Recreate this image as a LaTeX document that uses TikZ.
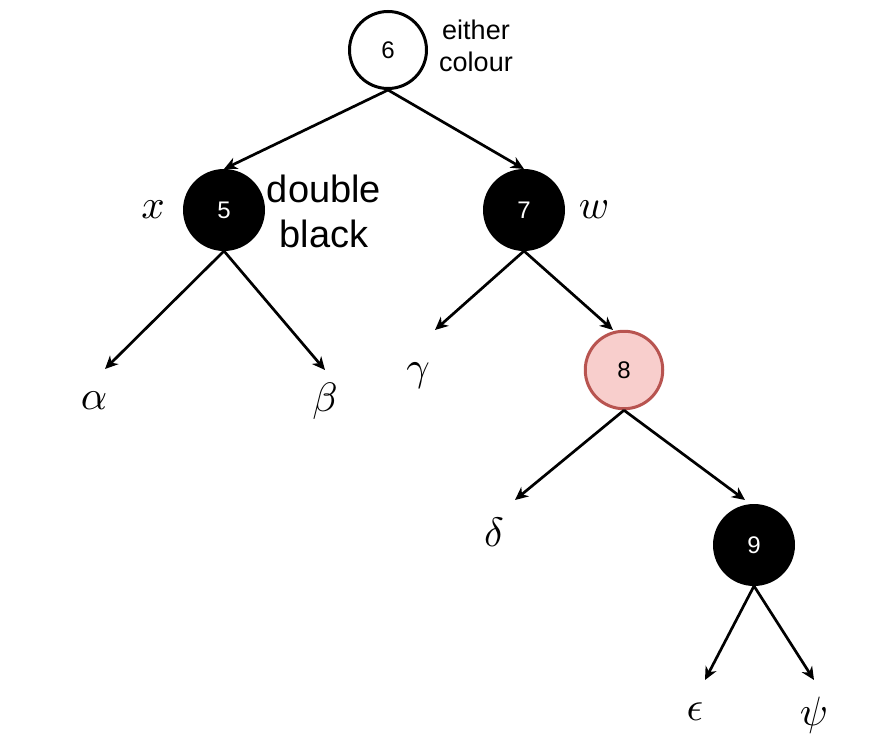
\documentclass[tikz,border=0pt]{standalone}
\usepackage{graphicx}
\usepackage{fontspec}
\setmainfont{Liberation Sans}
\usetikzlibrary{arrows.meta}
\definecolor{redfill}{HTML}{F8CECC}
\definecolor{redline}{HTML}{B85450}
\newcommand{\largemathsym}[1]{\scalebox{4.1}{$#1$}}
\tikzset{
 rb/.style={circle, minimum size=80pt, inner sep=0pt, font=\fontsize{24}{28}\selectfont},
 blacknode/.style={rb, fill=black, draw=black, line width=2pt, text=white},
 whitenode/.style={rb, draw=black, line width=3pt, fill=white, minimum size=77pt},
 rednode/.style={rb, draw=redline, fill=redfill, line width=3pt, minimum size=77.5pt},
 edge/.style={line width=2.7pt, -{Stealth[length=13pt,width=12pt,inset=4pt]}},
 greek/.style={inner sep=0pt},
 note/.style={align=center, inner sep=0pt},
}
\begin{document}
\begin{tikzpicture}[x=1pt,y=1pt]
\useasboundingbox (0,0) rectangle (886,-741);
% nodes
\node[whitenode] (n6) at (388,-50) {6};
\node[blacknode] (n5) at (224,-210) {5};
\node[blacknode] (n7) at (524,-210) {7};
\node[rednode] (n8) at (624,-370) {8};
\node[blacknode] (n9) at (754,-545) {9};
% texts
\node[note, font=\fontsize{27}{32}\selectfont] (t6) at (476,-46) {either\\colour};
\node[note, font=\fontsize{38}{45}\selectfont] (t5) at (324,-211) {double\\black};
\node[greek] (lx) at (153,-210) {\largemathsym{x}};
\node[greek] (lw) at (594,-210) {\largemathsym{w}};
\node[greek] (la) at (94,-401) {\largemathsym{\alpha}};
\node[greek] (lb) at (325,-401) {\largemathsym{\beta}};
\node[greek] (lg) at (418,-376) {\largemathsym{\gamma}};
\node[greek] (ld) at (494,-532) {\largemathsym{\delta}};
\node[greek] (le) at (695,-712) {\largemathsym{\epsilon}};
\node[greek] (lp) at (814,-715) {\largemathsym{\psi}};
% arrow ends
\coordinate (ea) at (105,-369);
\coordinate (eb) at (325,-370);
\coordinate (eg) at (435,-330);
\coordinate (e8) at (613,-330);
\coordinate (ed) at (515,-500);
\coordinate (e9) at (745,-500);
\coordinate (ee) at (705,-680);
\coordinate (ep) at (814,-680);
% edges
\draw[edge] (n6.south) -- (n5.north);
\draw[edge] (n6.south) -- (n7.north);
\draw[edge] (n5.south) -- (ea);
\draw[edge] (n5.south) -- (eb);
\draw[edge] (n7.south) -- (eg);
\draw[edge] (n7.south) -- (e8);
\draw[edge] (n8.south) -- (ed);
\draw[edge] (n8.south) -- (e9);
\draw[edge] (n9.south) -- (ee);
\draw[edge] (n9.south) -- (ep);
\end{tikzpicture}
\end{document}
